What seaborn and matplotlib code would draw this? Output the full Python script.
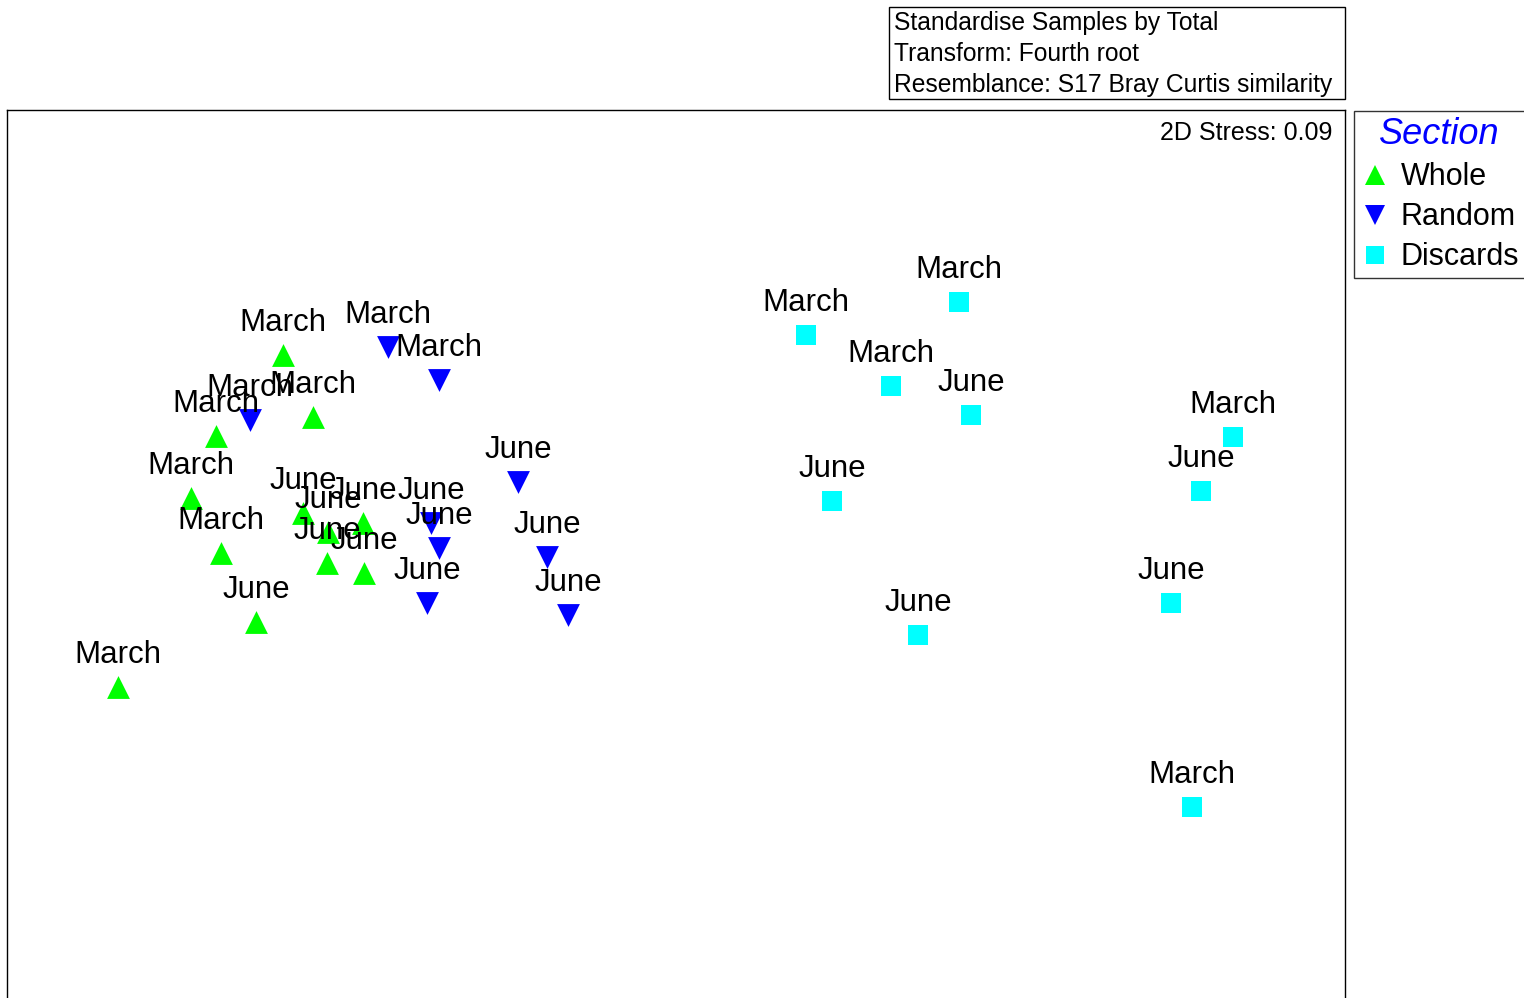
import matplotlib
matplotlib.use("Agg")
import matplotlib.pyplot as plt
from matplotlib.lines import Line2D
from matplotlib.patches import Rectangle
import seaborn as sns
import pandas as pd

# NMDS ordination coordinates (MDS1, MDS2) and sample months per section
whole_x = [-1.965, -1.815, -2.30, -2.425, -2.275, -2.79, -1.865, -1.74, -1.565, -1.745, -1.56, -2.10]
whole_y = [1.025, 0.715, 0.62, 0.31, 0.035, -0.635, 0.235, 0.14, 0.185, -0.015, -0.065, -0.31]
whole_month = ["March", "March", "March", "March", "March", "March",
               "June", "June", "June", "June", "June", "June"]

random_x = [-1.44, -1.185, -2.13, -0.79, -1.225, -1.185, -1.245, -0.645, -0.54]
random_y = [1.065, 0.90, 0.70, 0.39, 0.185, 0.06, -0.215, 0.015, -0.275]
random_month = ["March", "March", "March", "June", "June", "June", "June", "June", "June"]

discards_x = [1.415, 0.65, 1.075, 1.475, 0.78, 2.785, 2.625, 2.475, 1.21, 2.58]
discards_y = [1.29, 1.125, 0.87, 0.725, 0.295, 0.615, 0.345, -0.215, -0.375, -1.235]
discards_month = ["March", "March", "March", "June", "June", "March", "June", "June", "June", "March"]

sections = ["Whole", "Random", "Discards"]
colors = {"Whole": "#00FF00", "Random": "#0000FF", "Discards": "#00FFFF"}
markers = {"Whole": "^", "Random": "v", "Discards": "s"}
sizes = {"Whole": 270, "Random": 270, "Discards": 210}

info_lines = ["Standardise Samples by Total",
              "Transform: Fourth root",
              "Resemblance: S17 Bray Curtis similarity"]
stress_text = "2D Stress: 0.09"

df = pd.concat([
    pd.DataFrame({"MDS1": whole_x, "MDS2": whole_y, "Month": whole_month, "Section": "Whole"}),
    pd.DataFrame({"MDS1": random_x, "MDS2": random_y, "Month": random_month, "Section": "Random"}),
    pd.DataFrame({"MDS1": discards_x, "MDS2": discards_y, "Month": discards_month, "Section": "Discards"}),
], ignore_index=True)

sns.set_theme(style="white")
plt.rcParams["font.family"] = ["Liberation Sans", "DejaVu Sans"]
plt.rcParams["text.color"] = "black"

W, H = 1524, 998
fig = plt.figure(figsize=(W / 100, H / 100), dpi=100)
# plot frame runs past the bottom of the canvas
ax = fig.add_axes([7 / W, (H - 1010) / H, (1345 - 7) / W, (1010 - 110) / H])

for sec in sections:
    sub = df[df["Section"] == sec]
    sns.scatterplot(data=sub, x="MDS1", y="MDS2", ax=ax, marker=markers[sec],
                    color=colors[sec], s=sizes[sec], linewidth=0, legend=False, zorder=2)

for _, row in df.iterrows():
    ax.annotate(row["Month"], (row["MDS1"], row["MDS2"]), xytext=(0, 23.3),
                textcoords="offset points", ha="center", va="center",
                fontsize=22.5, color="black", zorder=3)

ax.set_xlim(-3.345, 3.345)
ax.set_ylim(-2.25, 2.25)
ax.set_xticks([])
ax.set_yticks([])
ax.set_xlabel("")
ax.set_ylabel("")
for sp in ax.spines.values():
    sp.set_color("black")
    sp.set_linewidth(1.0)

fig.text(1332 / W, 1 - 133 / H, stress_text, ha="right", va="center",
         fontsize=18, color="black")

# info box above the plot
fig.patches.append(Rectangle((889 / W, 1 - 99 / H), (1345 - 889) / W, (99 - 7) / H,
                             transform=fig.transFigure, fill=False, edgecolor="black",
                             linewidth=1.0))
for i, line in enumerate(info_lines):
    fig.text(894 / W, 1 - (23 + 31 * i) / H, line, ha="left", va="center",
             fontsize=17.7, color="black")

# legend
handles = [Line2D([], [], linestyle="none", marker=markers[s], color=colors[s],
                  markersize=(sizes[s] ** 0.5) * 0.9, markeredgewidth=0) for s in sections]
leg = fig.legend(handles, sections, loc="upper left",
                 bbox_to_anchor=(1354 / W, 1 - 111 / H), frameon=True, fancybox=False,
                 edgecolor="black", fontsize=22, title="Section",
                 borderpad=0.2, labelspacing=0.33, handletextpad=0.33, handlelength=1.0,
                 borderaxespad=0, labelcolor="black")
leg.get_frame().set_linewidth(1.0)
leg.get_title().set_fontsize(26)
leg.get_title().set_fontstyle("italic")
leg.get_title().set_color("#0000FF")

fig.savefig("out.png", dpi=100)
